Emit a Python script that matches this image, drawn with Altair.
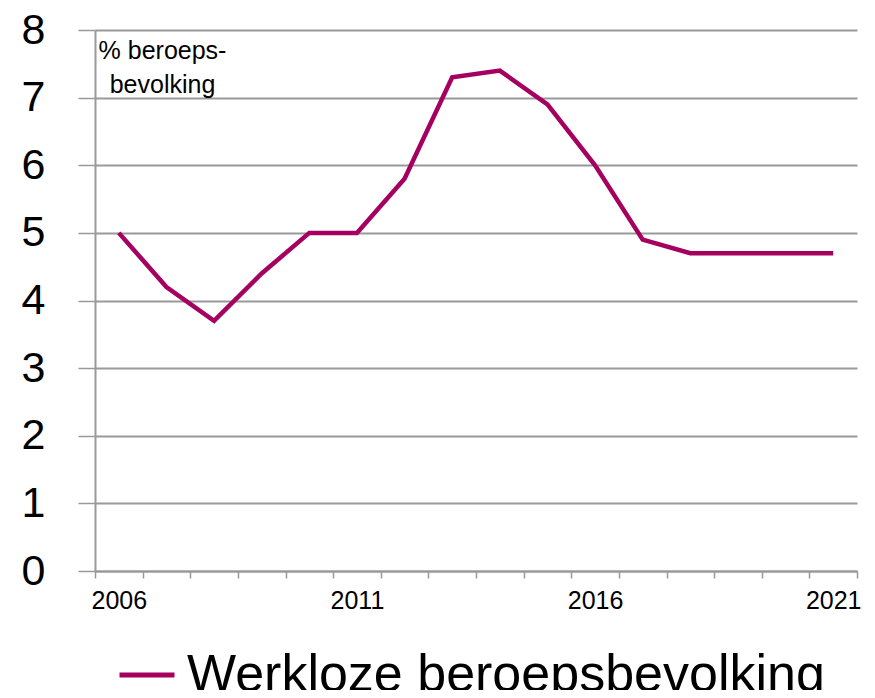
import altair as alt
import pandas as pd

# ---- data ----
years = list(range(2006, 2022))
rate = [5.0, 4.2, 3.7, 4.4, 5.0, 5.0, 5.8, 7.3, 7.4, 6.9, 6.0, 4.9, 4.7, 4.7, 4.7, 4.7]
series_name = "Werkloze beroepsbevolking"
y_ticks = [0, 1, 2, 3, 4, 5, 6, 7, 8]
label_years = [2006, 2011, 2016, 2021]
y_title = ["% beroeps-", "bevolking"]

df = pd.DataFrame({"jaar": years, "waarde": rate, "reeks": [series_name] * len(years)})

label_expr = "indexof([" + ",".join(str(y) for y in label_years) + "], datum.value) >= 0 ? datum.label : ''"

GRAY = "#999999"
FONT = "Liberation Sans"

chart = alt.Chart(df).mark_line(strokeWidth=4.5, strokeJoin="miter").encode(
    x=alt.X(
        "jaar:O",
        scale=alt.Scale(type="band", paddingInner=0, paddingOuter=0),
        axis=alt.Axis(
            title=None, labelAngle=0, tickBand="extent", tickSize=7,
            tickColor=GRAY, tickWidth=1.5, domainColor=GRAY, domainWidth=2,
            labelExpr=label_expr, labelFontSize=25, labelPadding=10,
            labelColor="black", labelOverlap=False, grid=False, labelFont=FONT,
        ),
    ),
    y=alt.Y(
        "waarde:Q",
        scale=alt.Scale(domain=[0, 8], nice=False, zero=True),
        axis=alt.Axis(
            values=y_ticks, title=y_title, titleAngle=0, titleX=67, titleY=28,
            titleAlign="center", titleBaseline="alphabetic", titleFontSize=25,
            titleFontWeight="normal", titleLineHeight=34, titleFont=FONT,
            titleColor="black",
            labelFontSize=43, labelFont=FONT, labelColor="black",
            tickSize=17, tickColor=GRAY, tickWidth=1.5, labelPadding=33,
            domainColor=GRAY, domainWidth=2,
            grid=True, gridColor=GRAY, gridWidth=2,
        ),
    ),
    color=alt.Color(
        "reeks:N",
        scale=alt.Scale(range=["#A5005F"]),
        legend=alt.Legend(
            title=None, orient="none", legendX=22, legendY=615,
            symbolType="stroke", symbolSize=3025, symbolStrokeWidth=5,
            labelFontSize=52, labelFont=FONT, labelOffset=10,
            labelColor="black", padding=0, labelLimit=1000,
        ),
    ),
).properties(
    width=762,
    height=541,
    autosize=alt.AutoSizeParams(type="none"),
    padding={"left": 87, "top": 22, "right": 8, "bottom": 119},
).configure_view(stroke=None)

chart.save("out.html", embed_options={"renderer": "svg", "actions": False})
